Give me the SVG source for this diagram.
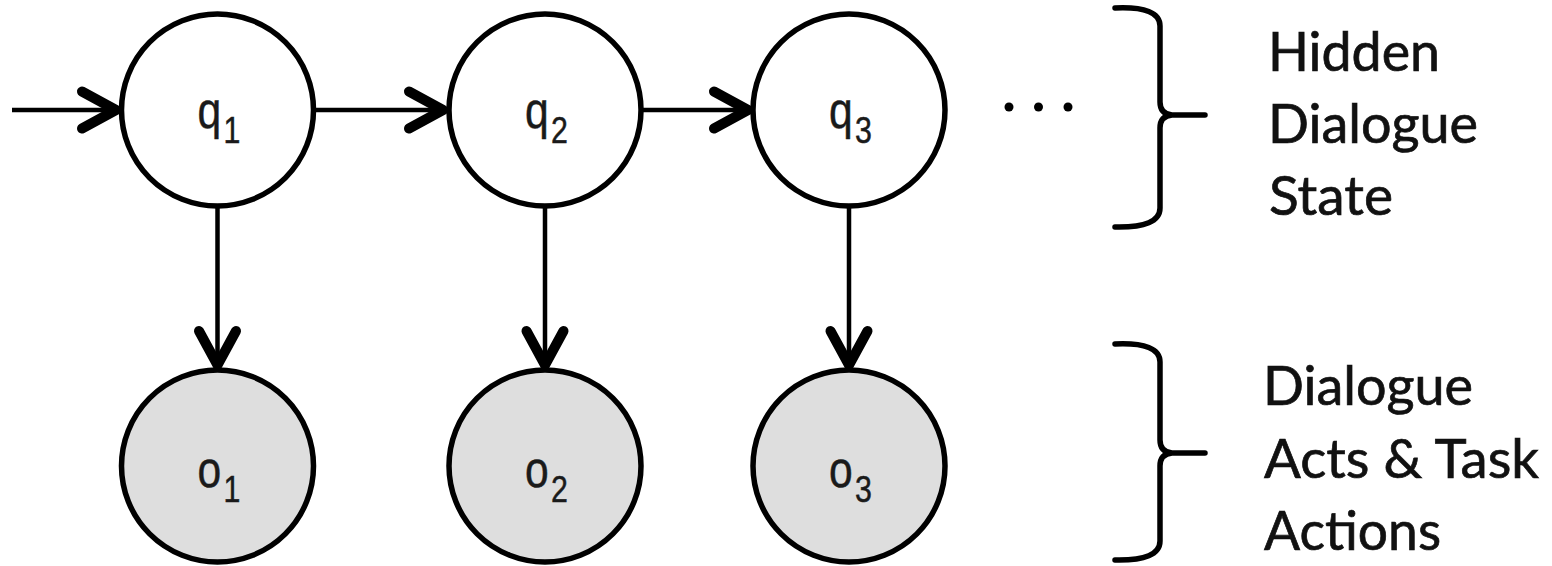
<svg xmlns="http://www.w3.org/2000/svg" width="1552" height="566" viewBox="0 0 1552 566">
<style>
.node circle{stroke:#000;stroke-width:5.5}
.hid circle{fill:#fff}
.obs circle{fill:#dedede}
.lbl{font-family:"Liberation Sans",Arial,sans-serif;font-size:52px;fill:#1a1a1a;stroke:#1a1a1a;stroke-width:0.5}
.sub{font-family:"Liberation Sans",Arial,sans-serif;font-size:37px;fill:#1a1a1a;stroke:#1a1a1a;stroke-width:0.5}
.edge{fill:none;stroke:#000;stroke-width:4.5;marker-end:url(#ah)}
.brace{fill:none;stroke:#000;stroke-width:5.5;stroke-linecap:round;stroke-linejoin:round}
.side{font-family:Lato,"Open Sans",sans-serif;font-size:54px;fill:#111;stroke:#111;stroke-width:0.7}
</style>
<defs>
<marker id="ah" markerUnits="userSpaceOnUse" viewBox="-48 -26 52 52" markerWidth="52" markerHeight="52" refX="0" refY="0" orient="auto" overflow="visible">
<path d="M-37,-18.5 L-3,0 L-37,18.5" fill="none" stroke="#000" stroke-width="10" stroke-linecap="round" stroke-linejoin="round"/>
</marker>
</defs>
<rect width="1552" height="566" fill="#fff"/>
<g id="connectors">
<path class="edge" d="M12,110 H119"/>
<path class="edge" d="M315,110 H446"/>
<path class="edge" d="M642,110 H751"/>
<path class="edge" d="M217.5,207 V368"/>
<path class="edge" d="M545,207 V368"/>
<path class="edge" d="M849,207 V368"/>
</g>
<g id="q1" class="node hid" transform="translate(217.5,110)"><circle r="96"/><text class="lbl" transform="translate(-20,18) scale(0.82,1)">q</text><text class="sub" transform="translate(6,33) scale(0.82,1)">1</text></g>
<g id="q2" class="node hid" transform="translate(545,110)"><circle r="96"/><text class="lbl" transform="translate(-20,18) scale(0.82,1)">q</text><text class="sub" transform="translate(6,33) scale(0.82,1)">2</text></g>
<g id="q3" class="node hid" transform="translate(849,110)"><circle r="96"/><text class="lbl" transform="translate(-20,18) scale(0.82,1)">q</text><text class="sub" transform="translate(6,33) scale(0.82,1)">3</text></g>
<g id="o1" class="node obs" transform="translate(217.5,466)"><circle r="96"/><text class="lbl" transform="translate(-20,20.5) scale(0.82,1)">o</text><text class="sub" transform="translate(6,36) scale(0.82,1)">1</text></g>
<g id="o2" class="node obs" transform="translate(545,466)"><circle r="96"/><text class="lbl" transform="translate(-20,20.5) scale(0.82,1)">o</text><text class="sub" transform="translate(6,36) scale(0.82,1)">2</text></g>
<g id="o3" class="node obs" transform="translate(849,466)"><circle r="96"/><text class="lbl" transform="translate(-20,20.5) scale(0.82,1)">o</text><text class="sub" transform="translate(6,36) scale(0.82,1)">3</text></g>
<g id="ellipsis" fill="#000">
<circle cx="1009" cy="107" r="4.5"/><circle cx="1038.5" cy="107" r="4.5"/><circle cx="1068" cy="107" r="4.5"/>
</g>
<g id="brace-hidden">
<path class="brace" d="M1115,8 Q1160,6 1160,26 V102 Q1160,114 1172,115 L1205,115 M1172,115 Q1160,116 1160,128 V208 Q1160,228 1115,227"/>
<text class="side" x="1268" y="71" textLength="172" lengthAdjust="spacingAndGlyphs">Hidden</text>
<text class="side" x="1268" y="143" textLength="210" lengthAdjust="spacingAndGlyphs">Dialogue</text>
<text class="side" x="1269" y="215" textLength="124" lengthAdjust="spacingAndGlyphs">State</text>
</g>
<g id="brace-observed">
<path class="brace" d="M1115,344 Q1160,342 1160,362 V440 Q1160,452 1172,453 L1205,453 M1172,453 Q1160,454 1160,466 V541 Q1160,561 1115,560"/>
<text class="side" x="1263" y="405" textLength="210" lengthAdjust="spacingAndGlyphs">Dialogue</text>
<text class="side" x="1264" y="478" textLength="275" lengthAdjust="spacingAndGlyphs">Acts &amp; Task</text>
<text class="side" x="1264" y="550" textLength="177" lengthAdjust="spacingAndGlyphs">Actions</text>
</g>
</svg>
